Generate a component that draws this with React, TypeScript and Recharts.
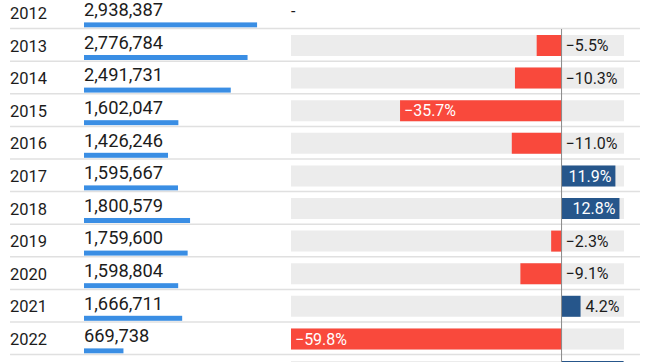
import { Bar, BarChart, Cell, LabelList, ReferenceLine, XAxis, YAxis } from "recharts"

const years = ["2012", "2013", "2014", "2015", "2016", "2017", "2018", "2019", "2020", "2021", "2022", "2023"]
const totals = [2938387, 2776784, 2491731, 1602047, 1426246, 1595667, 1800579, 1759600, 1598804, 1666711, 669738, 761540]
const changes: (number | null)[] = [null, -5.5, -10.3, -35.7, -11.0, 11.9, 12.8, -2.3, -9.1, 4.2, -59.8, 13.7]

const ROW_H = 32.6
const FONT = "Roboto, 'Noto Sans', sans-serif"
const TEXT = "#1c1c1c"
const RED = "#f9493c"
const NAVY = "#26568b"
const LIGHT_BLUE = "#3a8ee4"

const rows = years.map((year, i) => ({ year, value: totals[i], change: changes[i] }))
const changeRows = rows.filter((r) => r.change !== null)

const fmtPct = (v: number) => `${v < 0 ? "\u2212" : ""}${Math.abs(v).toFixed(1)}%`

// year text + row separator + "-" for the first row
function YearTick(props: any) {
  const { y, payload, index } = props
  const row = rows[index]
  return (
    <g>
      <text x={10} y={y + 6.7} fontSize={16.5} fill={TEXT} fontFamily={FONT}>
        {payload.value}
      </text>
      <line x1={10} x2={640} y1={y + ROW_H / 2} y2={y + ROW_H / 2} stroke="#e0e0e0" strokeWidth={1.5} />
      {row && row.change === null && (
        <text x={291} y={y + 5} fontSize={16} fill={TEXT} fontFamily={FONT}>
          -
        </text>
      )}
    </g>
  )
}

function ValueBar(props: any) {
  const { x, y, width, height, fill } = props
  return <rect x={x} y={y + height - 6.6} width={width} height={5} fill={fill} />
}

function ValueLabel(props: any) {
  const { x, y, value } = props
  return (
    <text x={x} y={y + 20.3} fontSize={18.3} fill={TEXT} fontFamily={FONT}>
      {Number(value).toLocaleString("en-US")}
    </text>
  )
}

function ChangeLabel(props: any) {
  const { x, y, width, height, value } = props
  if (value === null || value === undefined) return null
  const left = Math.min(x, x + width)
  const right = Math.max(x, x + width)
  const len = right - left
  const label = fmtPct(value)
  const textW = label.length * 9
  const inside = len >= textW + 8
  const cy = y + height / 2 + 5.8
  let tx = 0
  let anchor: "start" | "end" = "start"
  if (value < 0) {
    tx = inside ? left + 4 : right + 4
  } else {
    if (inside) {
      tx = right - 4
      anchor = "end"
    } else {
      tx = right + 5
    }
  }
  return (
    <text x={tx} y={cy} textAnchor={anchor} fontSize={16} fill={inside ? "#ffffff" : TEXT} fontFamily={FONT}>
      {label}
    </text>
  )
}

export default function App() {
  return (
    <div
      style={{
        position: "absolute",
        left: 0,
        top: 0,
        width: 651,
        height: 362,
        overflow: "hidden",
        background: "#fff",
      }}
    >
      <div style={{ position: "absolute", left: 0, top: -3.6 }}>
        <BarChart
          width={651}
          height={ROW_H * years.length}
          data={rows}
          layout="vertical"
          margin={{ top: 0, right: 390.3, bottom: 0, left: 0 }}
          barCategoryGap={0}
        >
          <XAxis type="number" hide domain={[0, 3000000]} />
          <YAxis
            type="category"
            dataKey="year"
            width={84}
            axisLine={false}
            tickLine={false}
            interval={0}
            tick={<YearTick />}
          />
          <Bar dataKey="value" fill={LIGHT_BLUE} shape={<ValueBar />} isAnimationActive={false}>
            <LabelList dataKey="value" content={<ValueLabel />} />
          </Bar>
        </BarChart>
      </div>
      <div style={{ position: "absolute", left: 291, top: -3.6 + ROW_H }}>
        <BarChart
          width={333}
          height={ROW_H * changeRows.length}
          data={changeRows}
          layout="vertical"
          margin={{ top: 0, right: 0, bottom: 0, left: 0 }}
        >
          <XAxis type="number" hide domain={[-59.8, 13.8]} />
          <YAxis type="category" dataKey="year" hide />
          <Bar dataKey="change" barSize={21} background={{ fill: "#ececec" }} isAnimationActive={false}>
            {changeRows.map((r, i) => (
              <Cell key={`c-${i}`} fill={(r.change as number) < 0 ? RED : NAVY} />
            ))}
            <LabelList dataKey="change" content={<ChangeLabel />} />
          </Bar>
          <ReferenceLine x={0} stroke="#8a8a8a" strokeWidth={1} ifOverflow="extendDomain" />
        </BarChart>
      </div>
    </div>
  )
}
